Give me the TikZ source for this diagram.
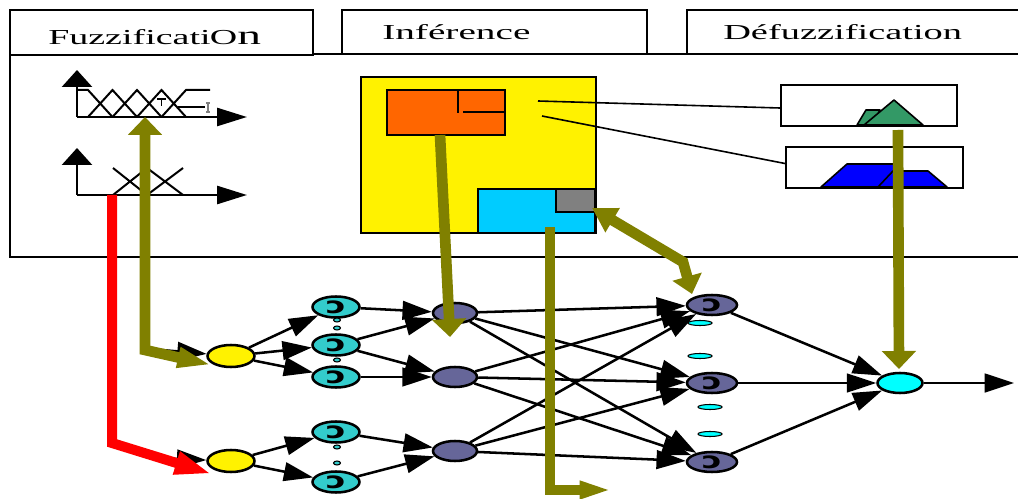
\documentclass[tikz,border=0pt]{standalone}
\usepackage{fontspec}
\setmainfont{Liberation Serif}
\newfontfamily\djv{DejaVu Sans}
\usetikzlibrary{arrows.meta,shapes.geometric,calc}
\definecolor{olive2}{RGB}{128,128,0}
\definecolor{teal2}{RGB}{51,204,204}
\definecolor{purp}{RGB}{102,102,153}
\definecolor{orng}{RGB}{255,102,0}
\definecolor{skyc}{RGB}{0,204,255}
\definecolor{grn}{RGB}{51,153,102}
\definecolor{cyn}{RGB}{0,255,255}
\newcommand\nglyph{\scalebox{1.5}[1]{\fontsize{17}{17}\djv\bfseries ɔ}}
\tikzset{
 hdr/.style={draw, line width=1.5pt, fill=white},
 hdrtxt/.style={anchor=base west, inner sep=0pt},
 neur/.style={ellipse, draw, line width=1.9pt, inner sep=0pt},
 ynode/.style={neur, fill=yellow, minimum width=35.25pt, minimum height=16.5pt},
 tnode/.style={neur, fill=teal2, minimum width=35.25pt, minimum height=15.75pt, label={center:\nglyph}},
 hnode/.style={neur, fill=purp, minimum width=33pt, minimum height=15pt},
 pnode/.style={neur, fill=purp, minimum width=37.5pt, minimum height=15pt, label={center:\nglyph}},
 onode/.style={neur, fill=cyn, minimum width=33.75pt, minimum height=15pt},
 dotn/.style={neur, line width=0.8pt, fill=teal2, minimum width=5.25pt, minimum height=3pt},
 dashn/.style={neur, line width=0.8pt, fill=cyn, minimum width=18pt, minimum height=3.75pt},
 conn/.style={line width=1.9pt, -{Triangle[length=22pt,width=14pt]}},
 ax/.style={line width=2pt},
 mf/.style={line width=1.5pt},
 oliv/.style={draw=olive2, line width=8pt},
 box/.style={draw, line width=1.5pt, rectangle, inner sep=0pt},
}
\begin{document}
\begin{tikzpicture}[x=0.75pt,y=-0.75pt]
\useasboundingbox (0,0) rectangle (1018,499);
\clip (0,0) rectangle (1018,499);
\fill[white] (0,0) rectangle (1018,499);
% panel
\draw[line width=1.5pt] (1030,54) -- (10,54) -- (10,257) -- (1030,257);
% headers
\draw[hdr] (10,10) rectangle (313,55);
\draw[hdr] (342,10) rectangle (647,54);
\draw[hdr] (687,10) rectangle (1030,54);
\node[hdrtxt] (tfuz) at (48,45) {\scalebox{1.78}[1]{\fontsize{16}{18}\selectfont Fuzzificati\kern-0.3pt O{\fontsize{20}{20}\selectfont n}}};
\node[hdrtxt] (tinf) at (382,40) {\scalebox{1.84}[1]{\fontsize{16}{18}\selectfont Inférence}};
\node[hdrtxt] (tdef) at (723,40) {\scalebox{1.8}[1]{\fontsize{16}{18}\selectfont Défuzzification}};
% fuzzification plots
\draw[ax, -{Triangle[length=12.75pt,width=22.5pt]}] (77,117) -- (77,70);
\draw[ax, -{Triangle[length=22.5pt,width=13.5pt]}] (77,117) -- (247,117);
\draw[mf] (78,90)--(88,90)--(112.5,117);
\draw[mf] (88,117)--(112.5,90)--(137,117);
\draw[mf] (112.5,117)--(137,90)--(161.5,117);
\draw[mf] (137,117)--(161.5,90)--(186,117);
\draw[mf] (161.5,117)--(186,90)--(210,90);
\draw[line width=1pt] (178,107)--(205,107);
\draw[line width=1pt] (157,99)--(166,99) (161.5,99)--(161.5,106);
\draw[gray, line width=1.2pt] (208,103)--(208,112) (206,103)--(210,103) (206,112)--(210,112);
\draw[ax, -{Triangle[length=12.75pt,width=22.5pt]}] (77,195) -- (77,148);
\draw[ax, -{Triangle[length=22.5pt,width=13.5pt]}] (77,195) -- (247,195);
\draw[mf] (113,168)--(147,195) (113,195)--(147,168);
\draw[mf] (147,168)--(183,195) (147,195)--(183,168);
% inference block
\node[box, fill=yellow, minimum width=176.25pt, minimum height=117pt] (inf) at (478.5,155) {};
\node[box, fill=orng, minimum width=88.5pt, minimum height=33.75pt] (rules) at (446,112.5) {};
\draw[line width=1.5pt] (458,90) -- (458,113) (463,112) -- (505,112);
\node[box, fill=skyc, minimum width=87.75pt, minimum height=33pt] (db) at (536.5,211) {};
\node[box, fill=gray, minimum width=29.25pt, minimum height=17.25pt] (gr) at (575.5,200.5) {};
% defuzzification boxes
\node[box, fill=white, minimum width=132pt, minimum height=30.75pt] (d1) at (869,105.5) {};
\node[box, fill=white, minimum width=132.75pt, minimum height=30.75pt] (d2) at (874.5,167.5) {};
\filldraw[fill=grn, line width=1.2pt, line join=round] (857,125)--(866,110)--(880,110)--(872,125)--cycle;
\filldraw[fill=grn, line width=1.2pt, line join=round] (864,125)--(894,100)--(923,125)--cycle;
\filldraw[fill=blue, line width=1.2pt, line join=round] (821,187)--(847,164)--(897,164)--(915,187)--cycle;
\filldraw[fill=blue, line width=1.2pt, line join=round] (878,187)--(893,171)--(928,171)--(947,187)--cycle;
\coordinate (l1) at (538,101);
\coordinate (l2) at (542,116);
\draw[line width=1.2pt] (l1) -- ($(d1.west)+(0,2.5)$);
\draw[line width=1.2pt] (l2) -- ($(d2.west)+(0,-4)$);
% network nodes
\node[ynode] (y1) at (231,356) {};
\node[ynode] (y2) at (231,461) {};
\node[tnode] (t1) at (336,307) {};
\node[tnode] (t2) at (336,345) {};
\node[tnode] (t3) at (336,377) {};
\node[tnode] (t4) at (336,432) {};
\node[tnode] (t5) at (336,482) {};
\node[dotn] (k1) at (337,320) {};
\node[dotn] (k2) at (337,328) {};
\node[dotn] (k3) at (337,360) {};
\node[dotn] (k4) at (337,447) {};
\node[dotn] (k5) at (337,463) {};
\node[hnode] (h1) at (455,313) {};
\node[hnode] (h2) at (455,377) {};
\node[hnode] (h3) at (455,451) {};
\node[pnode] (p1) at (712,305) {};
\node[pnode] (p2) at (712,383) {};
\node[pnode] (p3) at (712,462) {};
\node[dashn] (s1) at (700,323) {};
\node[dashn] (s2) at (700,356) {};
\node[dashn] (s3) at (710,407) {};
\node[dashn] (s4) at (710,434) {};
\node[onode] (out) at (900,383) {};
% connectors
\coordinate (in1) at (150,349);
\coordinate (in2) at (150,458);
\draw[conn] (in1) -- (y1);
\draw[conn] (in2) -- (y2);
\foreach \a/\b in {y1/t1,y1/t2,y1/t3,y2/t4,y2/t5,t1/h1,t2/h1,t2/h2,t3/h2,t4/h3,t5/h3}
  \draw[conn] (\a) -- (\b);
\foreach \a in {h1,h2,h3}
  \foreach \b in {p1,p2,p3}
    \draw[conn] (\a) -- (\b);
\foreach \a in {p1,p2,p3}
  \draw[conn] (\a) -- (out);
\coordinate (oend) at (1014,383);
\draw[conn] (out) -- (oend);
% olive and red arrows
\coordinate (fzt) at (145,117);
\coordinate (fzb) at (145,350);
\coordinate (fze) at (212,365);
\draw[oliv, {Triangle[length=13.5pt,width=25pt]}-{Triangle[length=26pt,width=14pt]}] (fzt) -- (fzb) -- (fze);
\coordinate (rb) at (440,135);
\coordinate (h1t) at (450,337);
\draw[oliv, -{Triangle[length=13.5pt,width=25pt]}] (rb) -- (h1t);
\coordinate (dbs) at (550,227);
\coordinate (dbb) at (550,490);
\coordinate (dbe) at (613,490);
\draw[oliv, -{Triangle[length=25pt,width=12pt]}] (dbs) -- (dbb) -- (dbe);
\coordinate (grt) at (592,208);
\coordinate (grm) at (683,262);
\coordinate (p1t) at (692,294);
\draw[oliv, {Triangle[length=18pt,width=20pt]}-{Triangle[length=13.5pt,width=22pt]}] (grt) -- (grm) -- (p1t);
\coordinate (dfs) at (898,130);
\coordinate (dfe) at (899,369);
\draw[oliv, -{Triangle[length=13.5pt,width=25pt]}] (dfs) -- (dfe);
\coordinate (rs) at (112,195);
\coordinate (rm) at (112,443);
\coordinate (re) at (212,474);
\draw[draw=red, line width=7.5pt, -{Triangle[length=28pt,width=16pt]}] (rs) -- (rm) -- (re);
\end{tikzpicture}
\end{document}
